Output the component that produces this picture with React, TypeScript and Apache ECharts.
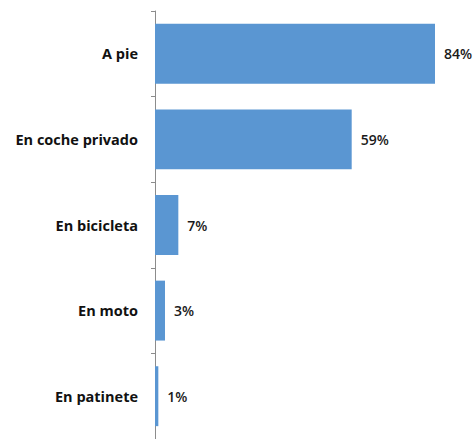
import React, { useEffect, useRef } from "react";
import * as echarts from "echarts";

const categories = ["A pie", "En coche privado", "En bicicleta", "En moto", "En patinete"];
const values = [84, 59, 7, 3, 1];

export default function App() {
  const ref = useRef<HTMLDivElement>(null);
  useEffect(() => {
    if (!ref.current) return;
    const chart = echarts.init(ref.current, null, { renderer: "svg" });
    chart.setOption({
      animation: false,
      grid: { left: 155, top: 11, width: 300, height: 430 },
      xAxis: { type: "value", min: 0, max: 90, show: false },
      yAxis: {
        type: "category",
        data: categories,
        inverse: true,
        axisLine: { show: true, lineStyle: { color: "#8c8c8c", width: 1 } },
        axisTick: { show: true, length: 4, lineStyle: { color: "#8c8c8c" } },
        axisLabel: {
          margin: 17,
          fontFamily: "Open Sans",
          fontWeight: "bold",
          fontSize: 14.5,
          color: "#111",
        },
        splitLine: { show: false },
      },
      series: [
        {
          type: "bar",
          data: values,
          barCategoryGap: "30%",
          itemStyle: { color: "#5a96d2" },
          label: {
            show: true,
            position: "right",
            distance: 9,
            formatter: "{c}%",
            fontFamily: "Open Sans",
            fontWeight: 600,
            fontSize: 14,
            color: "#1a1a1a",
          },
        },
      ],
    });
    return () => chart.dispose();
  }, []);
  return (
    <div
      ref={ref}
      style={{ position: "fixed", left: 0, top: 0, width: 474, height: 439, background: "#fff" }}
    />
  );
}
